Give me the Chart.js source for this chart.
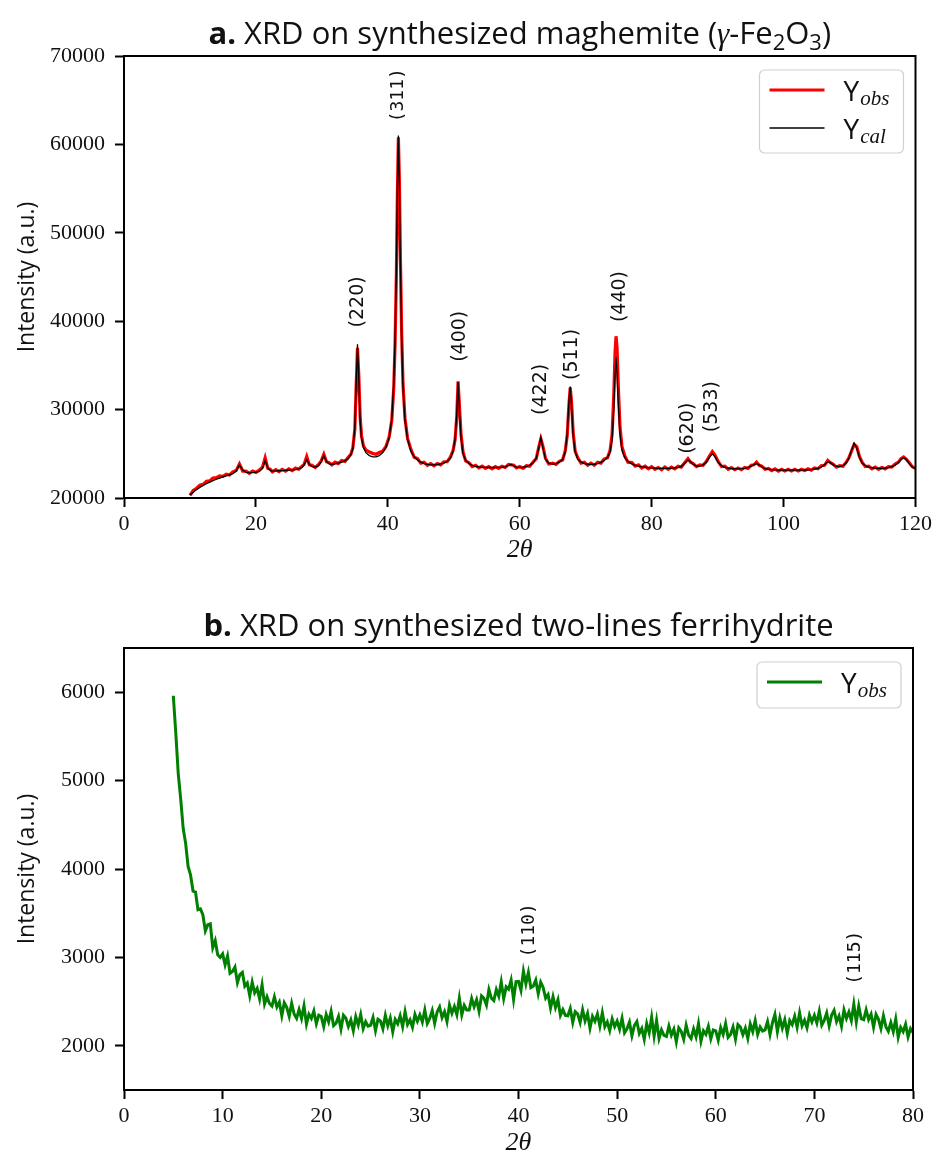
<!DOCTYPE html>
<html>
<head>
<meta charset="utf-8">
<script src="https://cdn.jsdelivr.net/npm/chart.js@4.4.1/dist/chart.umd.min.js"></script>
<style>
  html, body { margin: 0; padding: 0; background: #fff; }
  #wrap { position: relative; width: 936px; height: 1160px; }
  canvas { position: absolute; left: 0; }
  #chartA { top: 0; }
  #chartB { top: 592px; }
</style>
</head>
<body>
<div id="wrap">
  <canvas id="chartA" width="936" height="592"></canvas>
  <canvas id="chartB" width="936" height="568"></canvas>
</div>
<script>
// ---- panel a: maghemite (2theta, observed, calculated) ----
const twoThetaA = [
  10, 10.5, 11, 11.5, 12, 12.5, 13, 13.5, 14, 14.5,
  15, 15.5, 16, 16.5, 17, 17.5, 18, 18.5, 19, 19.5,
  20, 20.5, 21, 21.4, 21.8, 22.2, 22.5, 23, 23.5, 24,
  24.5, 25, 25.5, 26, 26.5, 27, 27.3, 27.7, 28.1, 28.5,
  29, 29.5, 29.9, 30.3, 30.7, 31.1, 31.5, 32, 32.5, 33,
  33.5, 34, 34.4, 34.7, 35, 35.2, 35.4, 35.6, 35.8, 36,
  36.3, 36.7, 37.2, 37.7, 38.2, 38.7, 39.2, 39.7, 40.2, 40.6,
  40.9, 41.1, 41.3, 41.45, 41.6, 41.75, 41.9, 42.1, 42.3, 42.6,
  43, 43.5, 44, 44.5, 45, 45.5, 46, 46.5, 47, 47.5,
  48, 48.5, 49, 49.5, 49.9, 50.2, 50.45, 50.65, 50.85, 51.1,
  51.4, 51.8, 52.3, 52.8, 53.3, 53.8, 54.3, 54.8, 55.3, 55.8,
  56.3, 56.8, 57.3, 57.8, 58.3, 58.7, 59.1, 59.5, 60, 60.5,
  61, 61.5, 62, 62.5, 62.9, 63.2, 63.5, 63.9, 64.4, 65,
  65.5, 66, 66.5, 66.9, 67.2, 67.45, 67.65, 67.85, 68.1, 68.4,
  68.8, 69.3, 69.8, 70.3, 70.8, 71.3, 71.8, 72.3, 72.8, 73.3,
  73.7, 74, 74.25, 74.45, 74.6, 74.75, 74.95, 75.2, 75.5, 75.9,
  76.4, 77, 77.5, 78, 78.5, 79, 79.5, 80, 80.5, 81,
  81.5, 82, 82.5, 83, 83.5, 84, 84.5, 85, 85.5, 85.9,
  86.3, 86.8, 87.3, 87.8, 88.3, 88.8, 89.2, 89.6, 90.1, 90.6,
  91.1, 91.6, 92.1, 92.6, 93.1, 93.6, 94.1, 94.6, 95.1, 95.5,
  95.9, 96.3, 96.7, 97.2, 97.7, 98.2, 98.7, 99.2, 99.7, 100.2,
  100.7, 101.2, 101.7, 102.2, 102.7, 103.2, 103.7, 104.2, 104.7, 105.2,
  105.7, 106.2, 106.7, 107.1, 107.5, 108, 108.5, 109, 109.5, 109.9,
  110.3, 110.7, 111.1, 111.5, 111.9, 112.4, 112.9, 113.4, 113.9, 114.4,
  114.9, 115.4, 115.9, 116.4, 116.9, 117.4, 117.8, 118.2, 118.6, 119,
  119.5, 120
];
const yCalA = [
  20350, 20650, 20950, 21200, 21420, 21620, 21800, 21970, 22120, 22260,
  22390, 22500, 22620, 22750, 23050, 23750, 23150, 22900, 22850, 22880,
  22920, 23000, 23350, 24250, 23400, 23100, 23050, 23060, 23080, 23100,
  23120, 23150, 23180, 23220, 23300, 23450, 23750, 24350, 23800, 23550,
  23500, 23650, 24100, 24800, 24150, 23850, 23800, 23850, 23950, 24050,
  24200, 24450, 24900, 25600, 28000, 33000, 37400, 33500, 28800, 26800,
  25700, 25100, 24800, 24650, 24650, 24800, 25100, 25700, 26800, 29000,
  33000, 38000, 46000, 55000, 61000, 55500, 47000, 38000, 32500, 28800,
  26600, 25300, 24650, 24300, 24050, 23900, 23800, 23750, 23750, 23780,
  23850, 23950, 24150, 24500, 25300, 26700, 29500, 33100, 30000, 26800,
  25000, 24250, 23900, 23700, 23580, 23520, 23480, 23460, 23450, 23450,
  23450, 23460, 23480, 23530, 23680, 23800, 23620, 23500, 23450, 23480,
  23550, 23700, 23950, 24500, 25700, 26850, 25700, 24400, 23950, 23850,
  23900, 24050, 24350, 25200, 27300, 30800, 32600, 30500, 27000, 25200,
  24400, 24050, 23880, 23820, 23800, 23820, 23900, 24030, 24250, 24600,
  25200, 26600, 30000, 33800, 35900, 34000, 30500, 27200, 25400, 24600,
  24150, 23850, 23700, 23600, 23530, 23480, 23430, 23400, 23370, 23350,
  23350, 23350, 23360, 23380, 23410, 23450, 23580, 23900, 24300, 24100,
  23800, 23620, 23620, 23750, 24050, 24650, 25000, 24650, 24000, 23650,
  23450, 23370, 23330, 23310, 23300, 23320, 23360, 23450, 23600, 23780,
  23900, 23750, 23500, 23330, 23250, 23210, 23190, 23170, 23160, 23150,
  23150, 23150, 23150, 23150, 23160, 23170, 23190, 23220, 23280, 23360,
  23500, 23750, 24100, 24000, 23750, 23580, 23560, 23650, 23950, 24500,
  25400, 26200, 25600, 24600, 23950, 23650, 23500, 23420, 23370, 23350,
  23360, 23390, 23450, 23550, 23720, 24000, 24350, 24550, 24350, 23950,
  23500, 23300
];
const yObsA = [
  20300, 20850, 21100, 21450, 21550, 21900, 21950, 22250, 22300, 22500,
  22450, 22700, 22600, 22950, 23100, 23850, 23050, 23050, 22800, 23050,
  22900, 23150, 23500, 24550, 23350, 23250, 22950, 23200, 22980, 23250,
  23050, 23300, 23100, 23380, 23250, 23600, 23800, 24700, 23750, 23700,
  23450, 23800, 24200, 24950, 24100, 24000, 23750, 24050, 23900, 24250,
  24150, 24600, 24950, 25700, 27800, 32600, 37000, 33800, 29200, 27100,
  25900, 25400, 25200, 25050, 24950, 25150, 25300, 25800, 26900, 28800,
  32500, 37500, 45500, 54500, 60800, 56000, 47500, 38500, 32900, 29000,
  26700, 25500, 24600, 24450, 23950, 24050, 23700, 23900, 23650, 23900,
  23750, 24100, 24100, 24650, 25400, 26600, 29200, 33200, 30500, 27200,
  25200, 24200, 24000, 23550, 23700, 23400, 23600, 23350, 23550, 23300,
  23550, 23350, 23600, 23450, 23800, 23750, 23700, 23400, 23550, 23350,
  23650, 23600, 24050, 24450, 25800, 26700, 25900, 24500, 23850, 23950,
  23800, 24150, 24300, 25350, 27100, 30500, 32500, 30900, 27400, 25300,
  24550, 23950, 24050, 23700, 23950, 23700, 24050, 23950, 24400, 24550,
  25400, 27200, 31500, 36500, 38300, 37000, 32500, 28000, 25800, 24800,
  24050, 24000, 23600, 23750, 23400, 23600, 23300, 23550, 23250, 23450,
  23200, 23500, 23250, 23500, 23300, 23600, 23500, 24000, 24450, 24050,
  23900, 23550, 23750, 23700, 24150, 24800, 25250, 24850, 24100, 23550,
  23600, 23250, 23450, 23200, 23400, 23200, 23450, 23350, 23700, 23750,
  24050, 23700, 23600, 23250, 23350, 23100, 23300, 23050, 23250, 23050,
  23250, 23050, 23250, 23050, 23250, 23100, 23300, 23150, 23400, 23300,
  23650, 23700, 24250, 24000, 23850, 23500, 23650, 23600, 24050, 24550,
  25300, 26050, 25800, 24700, 24050, 23550, 23600, 23300, 23500, 23250,
  23450, 23300, 23550, 23500, 23850, 24050, 24450, 24650, 24400, 24050,
  23550, 23350
];
const xTicksA = [0, 20, 40, 60, 80, 100, 120];
const yTicksA = [20000, 30000, 40000, 50000, 60000, 70000];
const peakNamesA = ['(220)', '(311)', '(400)', '(422)', '(511)', '(440)', '(620)', '(533)'];
const peakXA = [35.5, 41.6, 51.0, 63.2, 68.0, 75.2, 85.5, 89.2];
const peakYA = [39300, 62500, 35400, 29400, 33350, 39900, 25000, 27450];

// ---- panel b: two-lines ferrihydrite ----
const twoThetaB = [
  5, 5.25, 5.5, 5.75, 6, 6.25, 6.5, 6.75, 7, 7.25, 7.5, 7.75, 8, 8.25, 8.5, 8.75, 9, 9.25, 9.5, 9.75,
  10, 10.25, 10.5, 10.75, 11, 11.25, 11.5, 11.75, 12, 12.25, 12.5, 12.75, 13, 13.25, 13.5, 13.75, 14, 14.25, 14.5, 14.75,
  15, 15.25, 15.5, 15.75, 16, 16.25, 16.5, 16.75, 17, 17.25, 17.5, 17.75, 18, 18.25, 18.5, 18.75, 19, 19.25, 19.5, 19.75,
  20, 20.25, 20.5, 20.75, 21, 21.25, 21.5, 21.75, 22, 22.25, 22.5, 22.75, 23, 23.25, 23.5, 23.75, 24, 24.25, 24.5, 24.75,
  25, 25.25, 25.5, 25.75, 26, 26.25, 26.5, 26.75, 27, 27.25, 27.5, 27.75, 28, 28.25, 28.5, 28.75, 29, 29.25, 29.5, 29.75,
  30, 30.25, 30.5, 30.75, 31, 31.25, 31.5, 31.75, 32, 32.25, 32.5, 32.75, 33, 33.25, 33.5, 33.75, 34, 34.25, 34.5, 34.75,
  35, 35.25, 35.5, 35.75, 36, 36.25, 36.5, 36.75, 37, 37.25, 37.5, 37.75, 38, 38.25, 38.5, 38.75, 39, 39.25, 39.5, 39.75,
  40, 40.25, 40.5, 40.75, 41, 41.25, 41.5, 41.75, 42, 42.25, 42.5, 42.75, 43, 43.25, 43.5, 43.75, 44, 44.25, 44.5, 44.75,
  45, 45.25, 45.5, 45.75, 46, 46.25, 46.5, 46.75, 47, 47.25, 47.5, 47.75, 48, 48.25, 48.5, 48.75, 49, 49.25, 49.5, 49.75,
  50, 50.25, 50.5, 50.75, 51, 51.25, 51.5, 51.75, 52, 52.25, 52.5, 52.75, 53, 53.25, 53.5, 53.75, 54, 54.25, 54.5, 54.75,
  55, 55.25, 55.5, 55.75, 56, 56.25, 56.5, 56.75, 57, 57.25, 57.5, 57.75, 58, 58.25, 58.5, 58.75, 59, 59.25, 59.5, 59.75,
  60, 60.25, 60.5, 60.75, 61, 61.25, 61.5, 61.75, 62, 62.25, 62.5, 62.75, 63, 63.25, 63.5, 63.75, 64, 64.25, 64.5, 64.75,
  65, 65.25, 65.5, 65.75, 66, 66.25, 66.5, 66.75, 67, 67.25, 67.5, 67.75, 68, 68.25, 68.5, 68.75, 69, 69.25, 69.5, 69.75,
  70, 70.25, 70.5, 70.75, 71, 71.25, 71.5, 71.75, 72, 72.25, 72.5, 72.75, 73, 73.25, 73.5, 73.75, 74, 74.25, 74.5, 74.75,
  75, 75.25, 75.5, 75.75, 76, 76.25, 76.5, 76.75, 77, 77.25, 77.5, 77.75, 78, 78.25, 78.5, 78.75, 79, 79.25, 79.5, 79.75,
  80
];
const yObsB = [
  5960, 5540, 5080, 4790, 4460, 4290, 4030, 3930, 3750, 3740, 3540, 3550, 3480, 3300, 3370, 3380, 3110, 3190, 3030, 3000,
  3040, 2915, 3015, 2820, 2840, 2890, 2715, 2805, 2830, 2675, 2710, 2565, 2720, 2600, 2650, 2530, 2690, 2472, 2555, 2478,
  2450, 2555, 2440, 2495, 2340, 2488, 2435, 2333, 2480, 2360, 2310, 2410, 2310, 2452, 2245, 2357, 2310, 2395, 2250, 2345,
  2330, 2217, 2355, 2272, 2390, 2227, 2255, 2332, 2190, 2346, 2312, 2218, 2292, 2170, 2328, 2236, 2355, 2194, 2273, 2222,
  2232, 2321, 2171, 2300, 2280, 2192, 2345, 2227, 2315, 2157, 2298, 2249, 2340, 2217, 2385, 2242, 2295, 2210, 2355, 2278,
  2350, 2268, 2405, 2252, 2310, 2398, 2255, 2382, 2440, 2318, 2385, 2273, 2460, 2368, 2445, 2352, 2540, 2349, 2458, 2406,
  2405, 2534, 2442, 2521, 2390, 2564, 2537, 2461, 2635, 2539, 2512, 2636, 2560, 2722, 2535, 2667, 2640, 2742, 2525, 2727,
  2730, 2628, 2845, 2702, 2830, 2658, 2675, 2743, 2590, 2720, 2660, 2540, 2580, 2427, 2555, 2432, 2520, 2345, 2410, 2345,
  2340, 2422, 2265, 2387, 2360, 2264, 2408, 2281, 2365, 2199, 2333, 2276, 2360, 2222, 2375, 2217, 2270, 2172, 2305, 2217,
  2280, 2186, 2311, 2147, 2192, 2268, 2114, 2230, 2275, 2141, 2197, 2074, 2250, 2146, 2322, 2108, 2285, 2082, 2180, 2117,
  2105, 2222, 2120, 2187, 2045, 2204, 2164, 2073, 2233, 2122, 2082, 2191, 2101, 2251, 2050, 2170, 2130, 2220, 2080, 2180,
  2170, 2063, 2206, 2129, 2252, 2095, 2128, 2212, 2075, 2239, 2212, 2126, 2200, 2084, 2247, 2161, 2285, 2129, 2212, 2166,
  2180, 2274, 2127, 2261, 2355, 2160, 2315, 2200, 2295, 2140, 2285, 2240, 2335, 2209, 2372, 2226, 2290, 2204, 2347, 2271,
  2345, 2258, 2391, 2234, 2288, 2371, 2224, 2347, 2400, 2274, 2338, 2221, 2405, 2309, 2382, 2286, 2470, 2269, 2448, 2307,
  2295, 2406, 2297, 2358, 2210, 2355, 2300, 2195, 2340, 2217, 2165, 2262, 2160, 2302, 2095, 2207, 2160, 2245, 2100, 2195,
  2150
];
const xTicksB = [0, 10, 20, 30, 40, 50, 60, 70, 80];
const yTicksB = [2000, 3000, 4000, 5000, 6000];
const peakNamesB = ['(110)', '(115)'];
const peakXB = [41.1, 74.2];
const peakYB = [3000, 2690];

// ---- styling ----
const SANS = "'Open Sans', 'DejaVu Sans', sans-serif";
const SERIF = "'Liberation Serif', 'DejaVu Serif', serif";
const LABEL = "'DejaVu Sans', sans-serif";
const MONO = "'DejaVu Sans Mono', monospace";
const TXT = '#111111';
const MONO_LABELS = new Set(['(311)', '(110)', '(115)']);

const PLOT_TOP = 56;
const PLOT_BOTTOM = 498;
const PLOT_LEFT = 124;

const toPoints = (xs, ys) => xs.map((x, i) => ({ x, y: ys[i] }));

// draw a run of text pieces centred on cx: b = bold, i = italic serif, s = subscript
function drawRich(ctx, parts, cx, y, size) {
  const fontFor = s => {
    if (s === 'b') return `bold ${size}px ${SANS}`;
    if (s === 'i') return `italic ${size}px ${SERIF}`;
    if (s === 's') return `${Math.round(size * 0.7)}px ${SANS}`;
    return `${size}px ${SANS}`;
  };
  let total = 0;
  const widths = parts.map(([t, s]) => {
    ctx.font = fontFor(s);
    const w = ctx.measureText(t).width;
    total += w;
    return w;
  });
  let x = cx - total / 2;
  ctx.textAlign = 'left';
  ctx.textBaseline = 'alphabetic';
  parts.forEach(([t, s], i) => {
    ctx.font = fontFor(s);
    ctx.fillText(t, x, s === 's' ? y + size * 0.2 : y);
    x += widths[i];
  });
}

function makeDecor(opts) {
  return {
    id: 'decor',
    afterDraw(chart) {
      const { ctx, chartArea: a, scales } = chart;
      ctx.save();

      // full frame like matplotlib spines
      ctx.strokeStyle = '#000';
      ctx.lineWidth = 2;
      ctx.strokeRect(a.left, a.top, a.right - a.left, a.bottom - a.top);

      // title
      ctx.fillStyle = TXT;
      drawRich(ctx, opts.title, (a.left + a.right) / 2, 44, 31);

      // peak labels
      opts.peakNames.forEach((name, i) => {
        const px = scales.x.getPixelForValue(opts.peakX[i]);
        const py = scales.y.getPixelForValue(opts.peakY[i]);
        ctx.save();
        ctx.translate(px, py);
        ctx.rotate(-Math.PI / 2);
        ctx.font = MONO_LABELS.has(name) ? `18px ${MONO}` : `19px ${LABEL}`;
        ctx.textAlign = 'left';
        ctx.textBaseline = 'middle';
        ctx.fillStyle = TXT;
        ctx.fillText(name, 0, 0);
        ctx.restore();
      });

      // legend box
      const ds = chart.data.datasets;
      const order = opts.legendOrder;
      const w = 144, h = 9 + order.length * 37;
      const x0 = a.right - 12 - w, y0 = a.top + 14;
      ctx.beginPath();
      ctx.roundRect(x0, y0, w, h, 5);
      ctx.fillStyle = 'rgba(255,255,255,0.85)';
      ctx.fill();
      ctx.strokeStyle = '#d0d0d0';
      ctx.lineWidth = 1.2;
      ctx.stroke();
      order.forEach((di, i) => {
        const d = ds[di];
        const ly = y0 + 20 + i * 38;
        ctx.beginPath();
        ctx.moveTo(x0 + 10, ly);
        ctx.lineTo(x0 + 65, ly);
        ctx.strokeStyle = d.borderColor;
        ctx.lineWidth = d.legendWidth;
        ctx.stroke();
        ctx.fillStyle = TXT;
        ctx.textAlign = 'left';
        ctx.textBaseline = 'alphabetic';
        ctx.font = `28px ${SANS}`;
        ctx.fillText('Y', x0 + 84, ly + 11);
        const wy = ctx.measureText('Y').width;
        ctx.font = `italic 21px ${SERIF}`;
        ctx.fillText(d.sub, x0 + 84 + wy + 1, ly + 15);
      });
      ctx.restore();
    }
  };
}

function axes(xMin, xMax, xTicks, yMin, yMax, yTicks, canvasH, titleGap) {
  const tickFont = { family: SERIF, size: 22 };
  const grid = { drawOnChartArea: false, drawTicks: true, tickLength: 9, tickWidth: 2, tickColor: '#000' };
  const border = { display: true, color: '#000', width: 2 };
  return {
    x: {
      type: 'linear', min: xMin, max: xMax,
      afterBuildTicks: s => { s.ticks = xTicks.map(v => ({ value: v })); },
      afterFit: s => { s.height = canvasH - PLOT_BOTTOM; },
      ticks: { font: tickFont, color: TXT, padding: 4, maxRotation: 0, callback: v => String(v) },
      grid, border,
      title: {
        display: true, text: '2θ', color: TXT,
        font: { family: SERIF, size: 26, style: 'italic' },
        padding: { top: 0, bottom: titleGap }
      }
    },
    y: {
      type: 'linear', min: yMin, max: yMax,
      afterBuildTicks: s => { s.ticks = yTicks.map(v => ({ value: v })); },
      afterFit: s => { s.width = PLOT_LEFT; },
      ticks: { font: tickFont, color: TXT, padding: 10, callback: v => String(v) },
      grid, border,
      title: {
        display: true, text: 'Intensity (a.u.)', color: TXT,
        font: { family: SANS, size: 23 },
        padding: { top: 14, bottom: 0 }
      }
    }
  };
}

const common = {
  responsive: false,
  animation: false,
  devicePixelRatio: 1,
  events: [],
  plugins: { legend: { display: false }, tooltip: { enabled: false } },
  elements: { point: { radius: 0 }, line: { tension: 0 } }
};

// panel a
new Chart(document.getElementById('chartA'), {
  type: 'line',
  data: {
    datasets: [
      { label: 'Y_obs', sub: 'obs', data: toPoints(twoThetaA, yObsA), borderColor: '#ff0000', borderWidth: 3.2, legendWidth: 3, order: 2 },
      { label: 'Y_cal', sub: 'cal', data: toPoints(twoThetaA, yCalA), borderColor: '#000000', borderWidth: 1.3, legendWidth: 1.3, order: 1 }
    ]
  },
  options: {
    ...common,
    layout: { padding: { top: PLOT_TOP, right: 18, bottom: 0, left: 0 } },
    scales: axes(0, 120, xTicksA, 20000, 70000, yTicksA, 592, 26)
  },
  plugins: [makeDecor({
    title: [['a.', 'b'], [' XRD on synthesized maghemite (', 'n'], ['γ', 'i'], ['-Fe', 'n'], ['2', 's'], ['O', 'n'], ['3', 's'], [')', 'n']],
    peakNames: peakNamesA, peakX: peakXA, peakY: peakYA,
    legendOrder: [0, 1]
  })]
});

// panel b
new Chart(document.getElementById('chartB'), {
  type: 'line',
  data: {
    datasets: [
      { label: 'Y_obs', sub: 'obs', data: toPoints(twoThetaB, yObsB), borderColor: '#008000', borderWidth: 3, legendWidth: 3 }
    ]
  },
  options: {
    ...common,
    layout: { padding: { top: PLOT_TOP, right: 23, bottom: 0, left: 0 } },
    scales: axes(0, 80, xTicksB, 1500, 6500, yTicksB, 568, 1)
  },
  plugins: [makeDecor({
    title: [['b.', 'b'], [' XRD on synthesized two-lines ferrihydrite', 'n']],
    peakNames: peakNamesB, peakX: peakXB, peakY: peakYB,
    legendOrder: [0]
  })]
});
</script>
</body>
</html>
